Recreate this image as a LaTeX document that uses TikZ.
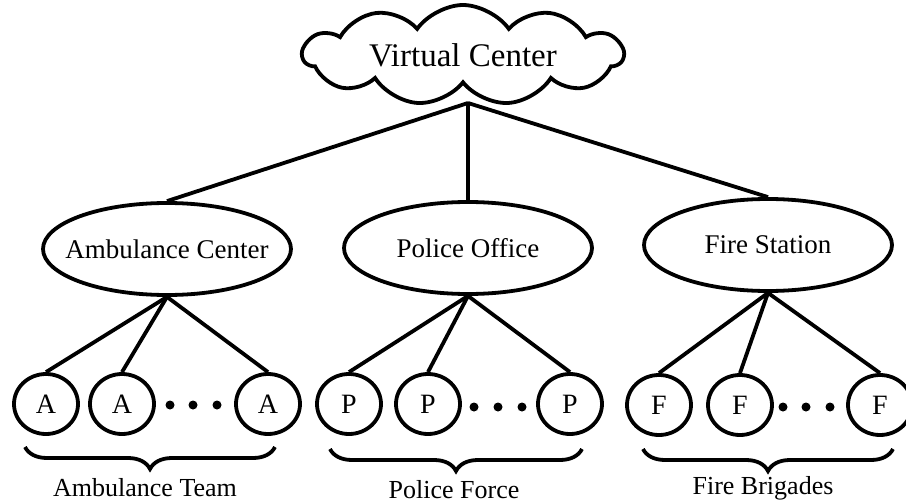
\documentclass[tikz,border=0pt]{standalone}
\usepackage{fontspec}
\setmainfont{Liberation Serif}
\usetikzlibrary{shapes.geometric,shapes.symbols,decorations.pathreplacing}
\tikzstyle{hubcloud} = [draw=black, line width=1.9pt, cloud, cloud puffs=11,
    cloud puff arc=110, cloud ignores aspect, minimum width=160pt,
    minimum height=50pt, inner sep=0pt, font=\fontsize{16.5}{18}\selectfont]
\tikzstyle{centerbox} = [draw=black, line width=1.9pt, ellipse,
    minimum width=124pt, minimum height=46pt, inner sep=0pt, inner xsep=-7pt,
    font=\fontsize{13.5}{16}\selectfont]
\tikzstyle{agentbox} = [draw=black, line width=1.9pt, ellipse,
    minimum width=32pt, minimum height=30pt, inner sep=0pt,
    font=\fontsize{14}{16}\selectfont]
\tikzstyle{link} = [line width=1.9pt]
\tikzstyle{dotmark} = [circle, fill=black, inner sep=0pt, minimum size=4.5pt]
\tikzstyle{groupbrace} = [line width=1.9pt, decorate,
    decoration={brace, mirror, amplitude=11pt}]
\tikzstyle{grouplabel} = [font=\fontsize{13}{15}\selectfont]

\begin{document}
\begin{tikzpicture}[x=0.5pt, y=-0.5pt]
    \useasboundingbox (0,0) rectangle (906,503);
    % virtual center and the three centers
    \node [hubcloud] (vc) at (463,55) {Virtual Center};
    \coordinate (hub) at (468,103);
    \node [centerbox] (ac) at (167,249) {Ambulance Center};
    \node [centerbox] (po) at (468,248) {Police Office};
    \node [centerbox] (fs) at (768,245) {Fire Station};
    \draw [link] (hub) -- (ac.north);
    \draw [link] (hub) -- (po.north);
    \draw [link] (hub) -- (fs.north);
    % agents
    \node [agentbox] (a1) at (46,404) {A};
    \node [agentbox] (a2) at (122,404) {A};
    \node [agentbox] (a3) at (268,404) {A};
    \node [agentbox] (p1) at (349,404) {P};
    \node [agentbox] (p2) at (428,404) {P};
    \node [agentbox] (p3) at (570,404) {P};
    \node [agentbox] (f1) at (659,405) {F};
    \node [agentbox] (f2) at (740,405) {F};
    \node [agentbox] (f3) at (880,405) {F};
    \foreach \c/\n in {ac/a, po/p, fs/f}
        \foreach \i in {1,2,3}
            \draw [link] (\c.south) -- (\n\i.north);
    \foreach \x [count=\i] in {170,193,217}
        \node [dotmark] (ad\i) at (\x,405) {};
    \foreach \x [count=\i] in {474,498,522}
        \node [dotmark] (pd\i) at (\x,407) {};
    \foreach \x [count=\i] in {783,806,830}
        \node [dotmark] (fd\i) at (\x,407) {};
    % groups
    \coordinate (ab1) at (25,447);
    \coordinate (ab2) at (275,447);
    \coordinate (pb1) at (330,449);
    \coordinate (pb2) at (582,449);
    \coordinate (fb1) at (643,449);
    \coordinate (fb2) at (893,449);
    \draw [groupbrace] (ab1) -- (ab2);
    \draw [groupbrace] (pb1) -- (pb2);
    \draw [groupbrace] (fb1) -- (fb2);
    \node [grouplabel] (at) at (145,488) {Ambulance Team};
    \node [grouplabel] (pf) at (454,490) {Police Force};
    \node [grouplabel] (fbr) at (763,488) {Fire Brigades};
\end{tikzpicture}
\end{document}
